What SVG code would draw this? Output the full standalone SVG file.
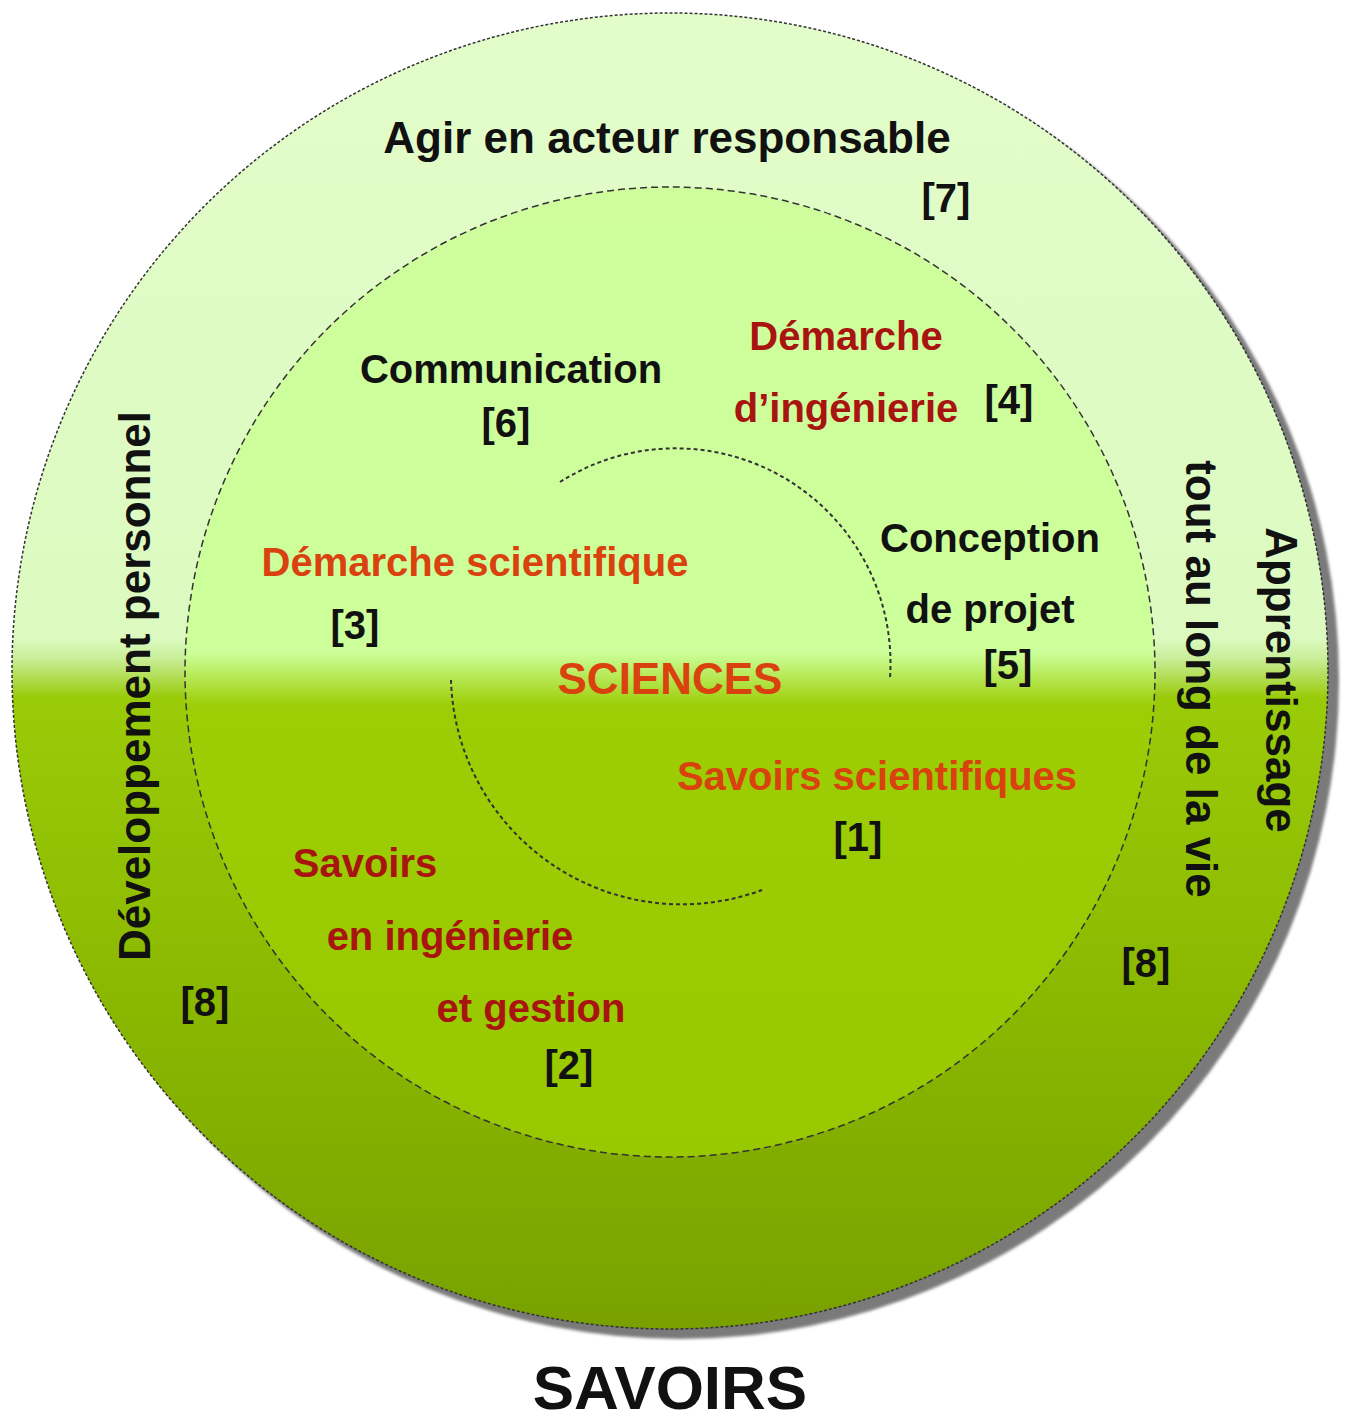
<svg xmlns="http://www.w3.org/2000/svg" width="1350" height="1425" viewBox="0 0 1350 1425">
<style>
text{font-family:"Liberation Sans",Arial,sans-serif;font-weight:bold;text-anchor:middle}
.k{fill:#111}
.o{fill:#D9420F}
.d{fill:#A8140F}
.in{font-size:40px}
.out{font-size:44px}
</style>
<defs>
<linearGradient id="gOut" gradientUnits="userSpaceOnUse" x1="0" y1="13" x2="0" y2="1330">
<stop offset="0" stop-color="#E3FDCA"/>
<stop offset="0.475" stop-color="#DCFAC0"/>
<stop offset="0.49" stop-color="#C9EE9A"/>
<stop offset="0.52" stop-color="#9ACB08"/>
<stop offset="0.75" stop-color="#8AB800"/>
<stop offset="1" stop-color="#78A100"/>
</linearGradient>
<linearGradient id="gIn" gradientUnits="userSpaceOnUse" x1="0" y1="187" x2="0" y2="1157">
<stop offset="0" stop-color="#CFFD9E"/>
<stop offset="0.48" stop-color="#CCFF99"/>
<stop offset="0.535" stop-color="#9CCD05"/>
<stop offset="1" stop-color="#97C800"/>
</linearGradient>
<filter id="blur" x="-5%" y="-5%" width="110%" height="110%"><feGaussianBlur stdDeviation="1.5"/></filter>
</defs>
<g id="background">
<circle cx="680" cy="680" r="659" fill="#7A7A7A" filter="url(#blur)"/>
<circle id="outer" cx="670" cy="671" r="658" fill="url(#gOut)" stroke="#333" stroke-width="1.5" stroke-dasharray="3 2"/>
<circle id="inner" cx="670" cy="672" r="485" fill="url(#gIn)" stroke="#333" stroke-width="1.5" stroke-dasharray="7 4"/>
</g>
<g id="connectors" fill="none" stroke="#333" stroke-width="2" stroke-dasharray="4 3">
<path d="M560,482 A215,215 0 0 1 890,678"/>
<path d="M451,680 A231,231 0 0 0 762,890"/>
</g>
<g id="n7"><text class="k out" x="667" y="153">Agir en acteur responsable</text><text class="k in" x="946" y="212">[7]</text></g>
<g id="n6"><text class="k in" x="511" y="383">Communication</text><text class="k in" x="506" y="437">[6]</text></g>
<g id="n4"><text class="d in" x="846" y="350">Démarche</text><text class="d in" x="846" y="422">d’ingénierie</text><text class="k in" x="1009" y="414">[4]</text></g>
<g id="n5"><text class="k in" x="990" y="552">Conception</text><text class="k in" x="990" y="623">de projet</text><text class="k in" x="1008" y="679">[5]</text></g>
<g id="n3"><text class="o in" x="475" y="576">Démarche scientifique</text><text class="k in" x="355" y="639">[3]</text></g>
<g id="center"><text class="o" style="font-size:44px" x="670" y="694">SCIENCES</text></g>
<g id="n1"><text class="o in" x="877" y="790">Savoirs scientifiques</text><text class="k in" x="858" y="851">[1]</text></g>
<g id="n2"><text class="d in" x="365" y="877">Savoirs</text><text class="d in" x="450" y="950">en ingénierie</text><text class="d in" x="531" y="1022">et gestion</text><text class="k in" x="569" y="1079">[2]</text></g>
<g id="n8left"><text class="k out" transform="translate(150,686) rotate(-90)">Développement personnel</text><text class="k in" x="205" y="1016">[8]</text></g>
<g id="n8right"><text class="k out" transform="translate(1266,680) rotate(90)">Apprentissage</text><text class="k out" transform="translate(1186,679) rotate(90)">tout au long de la vie</text><text class="k in" x="1146" y="977">[8]</text></g>
<g id="title"><text class="k" style="font-size:62px" x="670" y="1409">SAVOIRS</text></g>
</svg>
